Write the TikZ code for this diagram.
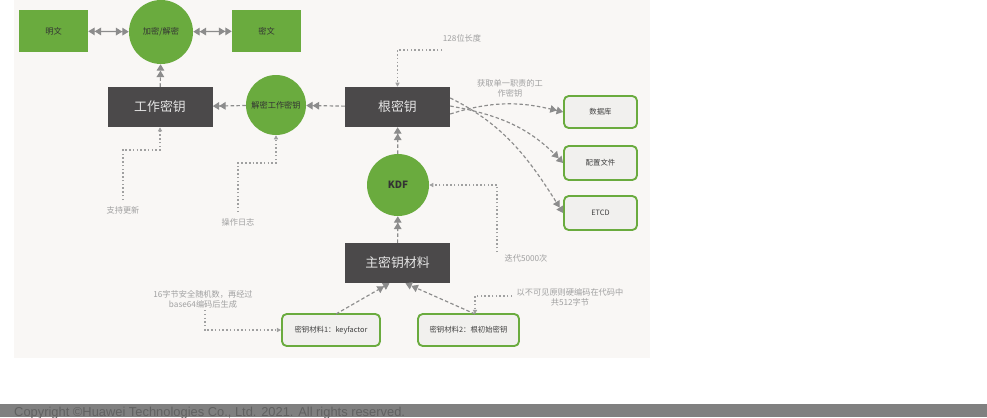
\documentclass[tikz,border=0pt]{standalone}
\usepackage{fontspec}
\setmainfont{Noto Sans CJK SC}
\newfontfamily\footfont{Liberation Sans}
\usetikzlibrary{arrows.meta,positioning}
\definecolor{grn}{HTML}{6AAB3E}
\definecolor{dk}{HTML}{4B494A}
\definecolor{panel}{HTML}{F9F7F5}
\definecolor{lbox}{HTML}{F1F0EE}
\definecolor{ln}{HTML}{8C8C8C}
\definecolor{lbl}{HTML}{A0A0A0}
\newdimen\pxu \pxu=0.03cm
\tikzset{
  gbox/.style={fill=grn,minimum width=69\pxu,minimum height=42\pxu,inner sep=0pt,font=\fontsize{7}{8}\selectfont,text=black!80},
  gcirc/.style={circle,fill=grn,inner sep=0pt,font=\fontsize{7}{8}\selectfont,text=black!80},
  dbox/.style={fill=dk,minimum width=105\pxu,minimum height=40\pxu,inner sep=0pt,font=\fontsize{11}{12}\selectfont,text=white!90!black},
  lboxs/.style={draw=grn,line width=1.6pt,rounded corners=4pt,fill=lbox,minimum height=32\pxu,inner sep=0pt,font=\fontsize{6.3}{7}\selectfont,text=black!75},
  note/.style={font=\fontsize{7}{8.5}\selectfont,text=lbl,align=center,inner sep=0pt},
  tip/.tip={Triangle[length=5.5pt,width=6.5pt]Triangle[length=5.5pt,width=6.5pt]},
  conn/.style={draw=ln,line width=1pt,dash pattern=on 3pt off 2pt,-tip},
  solidconn/.style={draw=ln,line width=1pt,tip-tip},
  dots/.style={draw=lbl,line width=1pt,dash pattern=on 1.2pt off 2pt},
  dotarr/.style={dots,-{Triangle[length=3.5pt,width=3.5pt]}},
}
\begin{document}
\begin{tikzpicture}[x=0.03cm,y=-0.03cm]
\useasboundingbox (0,0) rectangle (987,417);
\fill[white] (0,0) rectangle (987,417);
\fill[panel] (14,0) rectangle (650,358);
% footer
\begin{scope}
\clip (0,404) rectangle (987,417);
\fill[black!50] (0,404) rectangle (987,417);
\node[anchor=base west,inner sep=0pt,font=\footfont\fontsize{11}{12}\selectfont,text=black!62] (foot) at (14,416) {Copyright ©Huawei Technologies Co., Ltd. 2021. All rights reserved.};
\end{scope}

% nodes
\node[gbox] (ming) at (53.5,31) {明文};
\node[gcirc,minimum size=64\pxu] (jia) at (161,32) {加密/解密};
\node[gbox] (mi) at (266.5,31) {密文};
\node[dbox] (work) at (160,107) {工作密钥};
\node[gcirc,minimum size=60\pxu] (dec) at (276,105) {解密工作密钥};
\node[dbox] (root) at (397.5,107) {根密钥};
\node[gcirc,minimum size=62\pxu,font=\fontsize{8.5}{9}\selectfont\bfseries] (kdf) at (398,185) {KDF};
\node[dbox] (master) at (397.5,263) {主密钥材料};
\node[lboxs,minimum width=73\pxu] (db) at (600.5,112) {数据库};
\node[lboxs,minimum width=73\pxu,minimum height=34\pxu] (cfg) at (600.5,163) {配置文件};
\node[lboxs,minimum width=73\pxu,minimum height=34\pxu] (etcd) at (600.5,213) {ETCD};
\node[lboxs,minimum width=98\pxu] (m1) at (331,330) {密钥材料1：keyfactor};
\node[lboxs,minimum width=101\pxu] (m2) at (468.5,330) {密钥材料2：根初始密钥};

% notes
\node[note] (n128) at (462,38) {128位长度};
\node[note] (nget) at (510,88) {获取单一职责的工\\作密钥};
\node[note] (n5000) at (526,258) {迭代5000次};
\node[note] (nupd) at (123,210) {支持更新};
\node[note] (nlog) at (238,222) {操作日志};
\node[note] (n16) at (203,299) {16字节安全随机数，再经过\\base64编码后生成};
\node[note] (n512) at (570,297) {以不可见原则硬编码在代码中\\共512字节};

% connectors
\draw[solidconn] (ming) -- (jia);
\draw[solidconn] (jia) -- (mi);
\draw[conn] (work) -- (jia);
\draw[conn] (dec) -- (work);
\draw[conn] (root) -- (dec);
\draw[conn] (kdf) -- (root);
\draw[conn] (master) -- (kdf);
\coordinate (m1s) at (336,314);
\coordinate (m2s) at (475,314);
\draw[conn] (m1s) -- ([xshift=-8\pxu]master.south);
\draw[conn] (m2s) -- ([xshift=8\pxu]master.south);
\draw[conn] ([yshift=-7\pxu]root.east) .. controls (500,98) and (530,104) .. (db.west);
\draw[conn] ([yshift=1\pxu]root.east) .. controls (500,115) and (530,128) .. (cfg.west);
\draw[conn] ([yshift=9\pxu]root.east) .. controls (505,125) and (530,160) .. (etcd.west);

% dotted annotations
\coordinate (a128) at (442,50);
\coordinate (a5000) at (497,252);
\coordinate (aupd) at (123,200);
\coordinate (alog) at (238,212);
\coordinate (a16) at (205,310);
\coordinate (a512) at (512,296);
\draw[dotarr] (a128) -| (root.north);
\draw[dotarr] (a5000) |- (kdf.east);
\draw[dotarr] (aupd) |- (140,150) -| (work.south);
\draw[dotarr] (alog) |- (250,163) -| (dec.south);
\draw[dotarr] (a16) |- (m1.west);
\draw[dotarr] (a512) -| (m2s);
\end{tikzpicture}
\end{document}
